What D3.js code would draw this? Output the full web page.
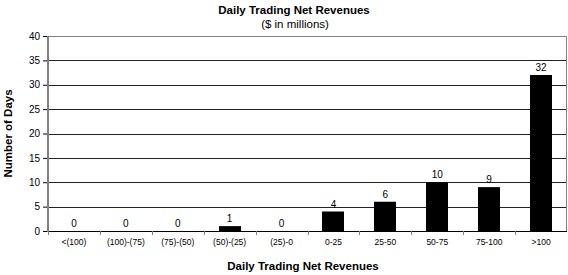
<!DOCTYPE html>
<html>
<head>
<meta charset="utf-8">
<script src="https://cdn.jsdelivr.net/npm/d3@7"></script>
<style>
body { margin: 0; background: #fff; }
text { font-family: Arial, "Liberation Sans", sans-serif; }
</style>
</head>
<body>
<svg id="chart"></svg>
<script>
var width = 568;
var height = 275;

// chart data
var categories = ["<(100)", "(100)-(75)", "(75)-(50)", "(50)-(25)", "(25)-0",
	"0-25", "25-50", "50-75", "75-100", ">100"];
var days = [0, 0, 0, 1, 0, 4, 6, 10, 9, 32];
var yTicks = [0, 5, 10, 15, 20, 25, 30, 35, 40];

var plotLeft = 48, plotRight = 567, plotTop = 36, plotBottom = 231;

var svg = d3.select("#chart")
.attr("width", width)
.attr("height", height);

var x = d3.scaleBand()
.domain(categories)
.range([plotLeft, plotRight])
.paddingInner(0)
.paddingOuter(0);

var y = d3.scaleLinear()
.domain([0, 40])
.range([plotBottom, plotTop]);

// gridlines
svg.append("g")
.selectAll("line")
.data(yTicks.filter(function (d) { return d > 0 && d < 40; }))
.enter().append("line")
.attr("x1", plotLeft)
.attr("x2", plotRight)
.attr("y1", function (d) { return Math.round(y(d)) + 0.5; })
.attr("y2", function (d) { return Math.round(y(d)) + 0.5; })
.style("stroke", "#222")
.style("stroke-width", 1);

// plot border (top and right)
svg.append("path")
.attr("d", "M" + plotLeft + "," + (plotTop + 0.5) + "H" + (plotRight - 0.5) + "V" + plotBottom)
.style("fill", "none")
.style("stroke", "#808080")
.style("stroke-width", 1);

// bars
var barWidth = 22;
svg.append("g")
.selectAll("rect")
.data(days)
.enter().append("rect")
.attr("x", function (d, i) { return Math.round(x(categories[i]) + x.bandwidth() / 2 - barWidth / 2); })
.attr("y", function (d) { return y(d); })
.attr("width", barWidth)
.attr("height", function (d) { return plotBottom - y(d); })
.style("fill", "#000");

// value labels
svg.append("g")
.selectAll("text")
.data(days)
.enter().append("text")
.attr("x", function (d, i) { return x(categories[i]) + x.bandwidth() / 2; })
.attr("y", function (d) { return y(d) - 4; })
.style("font-size", "10px")
.style("text-anchor", "middle")
.style("fill", "#000")
.text(function (d) { return d; });

// y axis
var yAxis = svg.append("g")
.attr("transform", "translate(" + plotLeft + ",0)")
.call(d3.axisLeft(y).tickValues(yTicks).tickSize(5).tickPadding(3));
yAxis.select(".domain").remove();
yAxis.selectAll(".tick line").style("stroke", "#000");
yAxis.selectAll(".tick text")
.style("font-size", "10px")
.style("font-family", "Arial, 'Liberation Sans', sans-serif")
.style("fill", "#000");
svg.append("line")
.attr("x1", plotLeft)
.attr("x2", plotLeft)
.attr("y1", plotTop)
.attr("y2", plotBottom + 1)
.style("stroke", "#808080")
.style("stroke-width", 2);

// x axis
svg.append("line")
.attr("x1", plotLeft)
.attr("x2", plotRight)
.attr("y1", plotBottom + 0.5)
.attr("y2", plotBottom + 0.5)
.style("stroke", "#000");
svg.append("g")
.selectAll("line")
.data(categories)
.enter().append("line")
.attr("x1", function (d) { return Math.round(x(d)) + 0.5; })
.attr("x2", function (d) { return Math.round(x(d)) + 0.5; })
.attr("y1", plotBottom)
.attr("y2", plotBottom + 4)
.style("stroke", "#808080");
svg.append("g")
.selectAll("text")
.data(categories)
.enter().append("text")
.attr("x", function (d) { return x(d) + x.bandwidth() / 2; })
.attr("y", plotBottom + 14)
.style("font-size", "8.5px")
.style("text-anchor", "middle")
.style("fill", "#000")
.text(function (d) { return d; });

// titles
svg.append("text")
.attr("x", 294)
.attr("y", 14)
.style("font-size", "11.5px")
.style("font-weight", "bold")
.style("text-anchor", "middle")
.text("Daily Trading Net Revenues");
svg.append("text")
.attr("x", 295)
.attr("y", 28)
.style("font-size", "11.5px")
.style("text-anchor", "middle")
.text("($ in millions)");
svg.append("text")
.attr("x", 303)
.attr("y", 270)
.style("font-size", "11.5px")
.style("font-weight", "bold")
.style("text-anchor", "middle")
.text("Daily Trading Net Revenues");
svg.append("text")
.attr("transform", "translate(12," + ((plotTop + plotBottom) / 2) + ") rotate(-90)")
.style("font-size", "11.5px")
.style("font-weight", "bold")
.style("text-anchor", "middle")
.text("Number of Days");
</script>
</body>
</html>
